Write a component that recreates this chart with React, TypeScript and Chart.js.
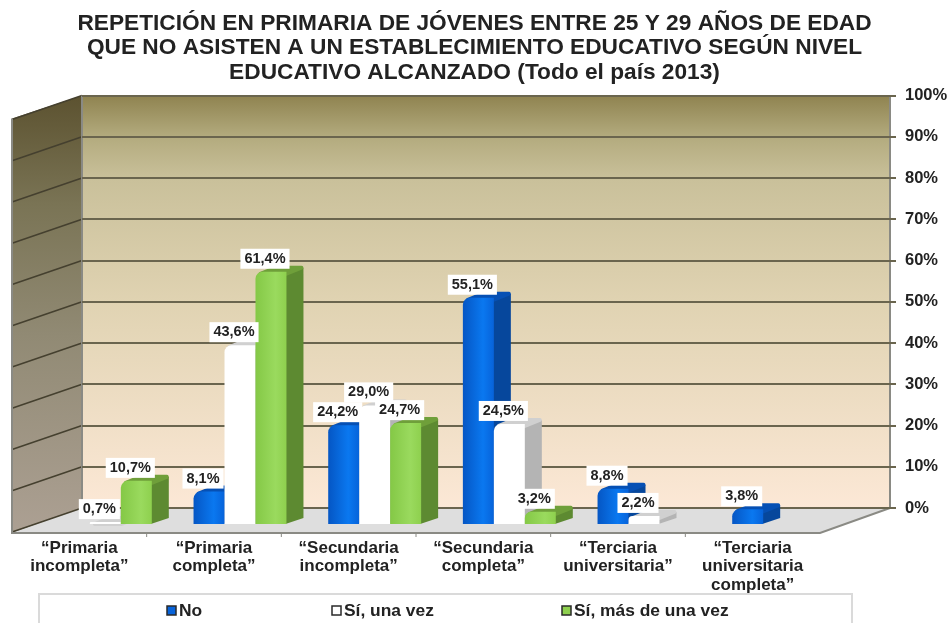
import React, { useEffect, useRef } from "react";
import { Chart, registerables } from "chart.js";

Chart.register(...registerables);

const categories = [
  ["“Primaria", "incompleta”"],
  ["“Primaria", "completa”"],
  ["“Secundaria", "incompleta”"],
  ["“Secundaria", "completa”"],
  ["“Terciaria", "universitaria”"],
  ["“Terciaria", "universitaria", "completa”"],
];
const noValues = [null, 8.1, 24.2, 55.1, 8.8, 3.8];
const unaVezValues = [0.7, 43.6, 29.0, 24.5, 2.2, null];
const masDeUnaValues = [10.7, 61.4, 24.7, 3.2, null, null];
const seriesNames = ["No", "Sí, una vez", "Sí, más de una vez"];
const titleLines = [
  "REPETICIÓN EN PRIMARIA DE JÓVENES ENTRE 25 Y 29 AÑOS DE EDAD",
  "QUE NO ASISTEN A UN ESTABLECIMIENTO EDUCATIVO SEGÚN NIVEL",
  "EDUCATIVO ALCANZADO (Todo el país 2013)",
];

const FONT = "'Liberation Sans', Arial, sans-serif";
const TEXT = "#222222";
const FRONT = ["#0763da", "#ffffff", "#8ed04e"];
const FRONT_LIGHT = ["#0a78f0", "#ffffff", "#9ada5e"];
const FRONT_DARK = ["#0556c4", "#ffffff", "#84c846"];
const SIDE = ["#06479c", "#b4b4b4", "#5d8a31"];
const TOP = ["#0650b4", "#d0d0d0", "#6f9f3a"];
const SWATCH_X = [166, 331, 561];

// Projection of the 3D box: wall depth and the bars' own depth
const WALL_DX = 70;
const WALL_DY = 24;
const BAR_DX = -44;
const BAR_DY = 17;
const DEPTH_X = 17;
const DEPTH_Y = 7;

function poly(ctx: CanvasRenderingContext2D, pts: number[][], fill: any, stroke?: string) {
  ctx.beginPath();
  pts.forEach((p, i) => (i ? ctx.lineTo(p[0], p[1]) : ctx.moveTo(p[0], p[1])));
  ctx.closePath();
  ctx.fillStyle = fill;
  ctx.fill();
  if (stroke) {
    ctx.strokeStyle = stroke;
    ctx.stroke();
  }
}

const box3dPlugin = {
  id: "box3d",
  afterLayout(chart: any) {
    // Title is centred over the picture rather than over the padded plot area
    chart.titleBlock.left = 0;
    chart.titleBlock.right = 949;
  },
  beforeDraw(chart: any) {
    const { ctx, chartArea: a, scales } = chart;
    const y = scales.y;
    ctx.save();
    ctx.lineWidth = 1;
    // back wall
    const back = ctx.createLinearGradient(0, a.top, 0, a.bottom);
    back.addColorStop(0, "#8f8350");
    back.addColorStop(0.1, "#b3ab7e");
    back.addColorStop(0.2, "#c9c09a");
    back.addColorStop(0.5, "#e0d3b2");
    back.addColorStop(1, "#fce8d6");
    poly(ctx, [[a.left, a.top], [a.right, a.top], [a.right, a.bottom], [a.left, a.bottom]], back);
    // side wall
    const side = ctx.createLinearGradient(0, a.top, 0, a.bottom + WALL_DY);
    side.addColorStop(0, "#5c5230");
    side.addColorStop(0.25, "#7a7455");
    side.addColorStop(0.55, "#918a74");
    side.addColorStop(1, "#aca093");
    poly(
      ctx,
      [
        [a.left, a.top],
        [a.left - WALL_DX, a.top + WALL_DY - 1],
        [a.left - WALL_DX, a.bottom + WALL_DY + 1],
        [a.left, a.bottom],
      ],
      side
    );
    // floor
    poly(
      ctx,
      [
        [a.left, a.bottom],
        [a.right, a.bottom],
        [a.right - WALL_DX, a.bottom + WALL_DY + 1],
        [a.left - WALL_DX, a.bottom + WALL_DY + 1],
      ],
      "#dedede"
    );
    // diagonals on the side wall
    ctx.strokeStyle = "#45402f";
    ctx.lineWidth = 1.5;
    y.ticks.forEach((t: any) => {
      const py = y.getPixelForValue(t.value);
      ctx.beginPath();
      ctx.moveTo(a.left, py);
      ctx.lineTo(a.left - WALL_DX, py + WALL_DY);
      ctx.stroke();
    });
    // edges
    ctx.strokeStyle = "#8a8a84";
    ctx.lineWidth = 2;
    ctx.beginPath();
    ctx.moveTo(a.right, a.top);
    ctx.lineTo(a.right, a.bottom);
    ctx.lineTo(a.right - WALL_DX, a.bottom + WALL_DY + 1);
    ctx.lineTo(a.left - WALL_DX, a.bottom + WALL_DY + 1);
    ctx.lineTo(a.left - WALL_DX, a.top + WALL_DY - 1);
    ctx.moveTo(a.left, a.top);
    ctx.lineTo(a.left, a.bottom);
    ctx.stroke();
    ctx.lineWidth = 1;
    // category ticks under the floor edge
    for (let i = 1; i < categories.length; i++) {
      const px = scales.x.getPixelForValue(i) - scales.x.width / categories.length / 2 - WALL_DX;
      ctx.beginPath();
      ctx.moveTo(px, a.bottom + WALL_DY + 1);
      ctx.lineTo(px, a.bottom + WALL_DY + 5);
      ctx.stroke();
    }
    ctx.restore();
  },
  beforeDatasetsDraw(chart: any) {
    const { ctx, scales } = chart;
    const base = scales.y.getPixelForValue(0);
    ctx.save();
    ctx.translate(BAR_DX, BAR_DY);
    chart.data.datasets.forEach((ds: any, di: number) => {
      const meta = chart.getDatasetMeta(di);
      meta.data.forEach((bar: any, i: number) => {
        if (ds.data[i] === null) return;
        const l = bar.x - bar.width / 2;
        const r = bar.x + bar.width / 2;
        const t = bar.y;
        // side face, then a top face whose thick round stroke softens the corners
        poly(ctx, [[r - 1, t + 2], [r + DEPTH_X, t - DEPTH_Y + 3], [r + DEPTH_X, base - DEPTH_Y], [r - 1, base - 1]], SIDE[di]);
        ctx.lineJoin = "round";
        ctx.lineWidth = 4;
        poly(
          ctx,
          [[l + 5, t + 2], [r, t + 2], [r + DEPTH_X - 2, t - DEPTH_Y + 3], [l + DEPTH_X + 3, t - DEPTH_Y + 3]],
          TOP[di],
          TOP[di]
        );
        // soft cylinder-like shading on the front face
        const grad = ctx.createLinearGradient(l, 0, r, 0);
        grad.addColorStop(0, FRONT_DARK[di]);
        grad.addColorStop(0.65, FRONT_LIGHT[di]);
        grad.addColorStop(1, FRONT[di]);
        bar.options = Object.assign({}, bar.options, { backgroundColor: grad });
      });
      meta.controller.draw();
    });
    ctx.restore();
    return false;
  },
  afterDraw(chart: any) {
    const { ctx, chartArea: a } = chart;
    ctx.save();
    // value labels
    ctx.font = `bold 14.5px ${FONT}`;
    ctx.textAlign = "center";
    ctx.textBaseline = "middle";
    chart.data.datasets.forEach((ds: any, di: number) => {
      chart.getDatasetMeta(di).data.forEach((bar: any, i: number) => {
        const v = ds.data[i];
        if (v === null) return;
        const text = v.toFixed(1).replace(".", ",") + "%";
        const cx = bar.x + BAR_DX - 6;
        const cy = bar.y + BAR_DY - 13;
        const w = ctx.measureText(text).width + 8;
        ctx.fillStyle = "#ffffff";
        ctx.fillRect(cx - w / 2, cy - 10, w, 20);
        ctx.fillStyle = TEXT;
        ctx.fillText(text, cx, cy);
      });
    });
    // legend box
    const top = a.bottom + 86;
    ctx.fillStyle = "#ffffff";
    ctx.strokeStyle = "#dadada";
    ctx.lineWidth = 2;
    ctx.fillRect(39, top, 813, 40);
    ctx.strokeRect(39, top, 813, 40);
    ctx.font = `bold 17.4px ${FONT}`;
    ctx.textAlign = "left";
    chart.data.datasets.forEach((ds: any, di: number) => {
      const sx = SWATCH_X[di];
      ctx.fillStyle = FRONT[di];
      ctx.strokeStyle = "#2a2a2a";
      ctx.lineWidth = 1.5;
      ctx.fillRect(sx + 1, top + 12, 9, 9);
      ctx.strokeRect(sx + 1, top + 12, 9, 9);
      ctx.fillStyle = TEXT;
      ctx.fillText(ds.label, sx + 13, top + 17);
    });
    ctx.restore();
  },
};

export default function App() {
  const ref = useRef<HTMLCanvasElement>(null);
  useEffect(() => {
    const chart = new Chart(ref.current as HTMLCanvasElement, {
      type: "bar",
      data: {
        labels: categories as any,
        datasets: [
          { label: seriesNames[0], data: noValues, backgroundColor: FRONT[0] },
          { label: seriesNames[1], data: unaVezValues, backgroundColor: FRONT[1] },
          { label: seriesNames[2], data: masDeUnaValues, backgroundColor: FRONT[2] },
        ] as any,
      },
      options: {
        responsive: false,
        animation: false,
        layout: { padding: { left: 82, top: 8 } },
        datasets: {
          bar: {
            barPercentage: 1,
            categoryPercentage: 0.69,
            borderRadius: { topLeft: 7, topRight: 0, bottomLeft: 0, bottomRight: 0 },
            borderSkipped: false,
          },
        },
        plugins: {
          legend: { display: false },
          tooltip: { enabled: false },
          title: {
            display: true,
            text: titleLines,
            color: TEXT,
            font: { family: FONT, size: 22.7, weight: "bold", lineHeight: 1.08 },
            padding: { top: 3, bottom: 11 },
          },
        },
        scales: {
          x: {
            grid: { display: false },
            border: { display: false },
            afterFit(s: any) {
              s.height = 115;
            },
            ticks: {
              autoSkip: false,
              maxRotation: 0,
              minRotation: 0,
              labelOffset: -WALL_DX,
              padding: 23,
              color: TEXT,
              font: { family: FONT, size: 17, weight: "bold", lineHeight: 1.08 },
            },
          },
          y: {
            position: "right",
            min: 0,
            max: 100,
            grid: { color: "#6a654e", lineWidth: 2, tickLength: 6 },
            border: { display: false },
            afterFit(s: any) {
              s.width = 61;
            },
            ticks: {
              stepSize: 10,
              padding: 9,
              color: TEXT,
              font: { family: FONT, size: 16.5, weight: "bold" },
              callback: (v: any) => v + "%",
            },
          },
        },
      } as any,
      plugins: [box3dPlugin as any],
    });
    return () => chart.destroy();
  }, []);
  return (
    <canvas
      ref={ref}
      width={951}
      height={623}
      style={{ position: "absolute", left: 0, top: 0, display: "block" }}
    />
  );
}
